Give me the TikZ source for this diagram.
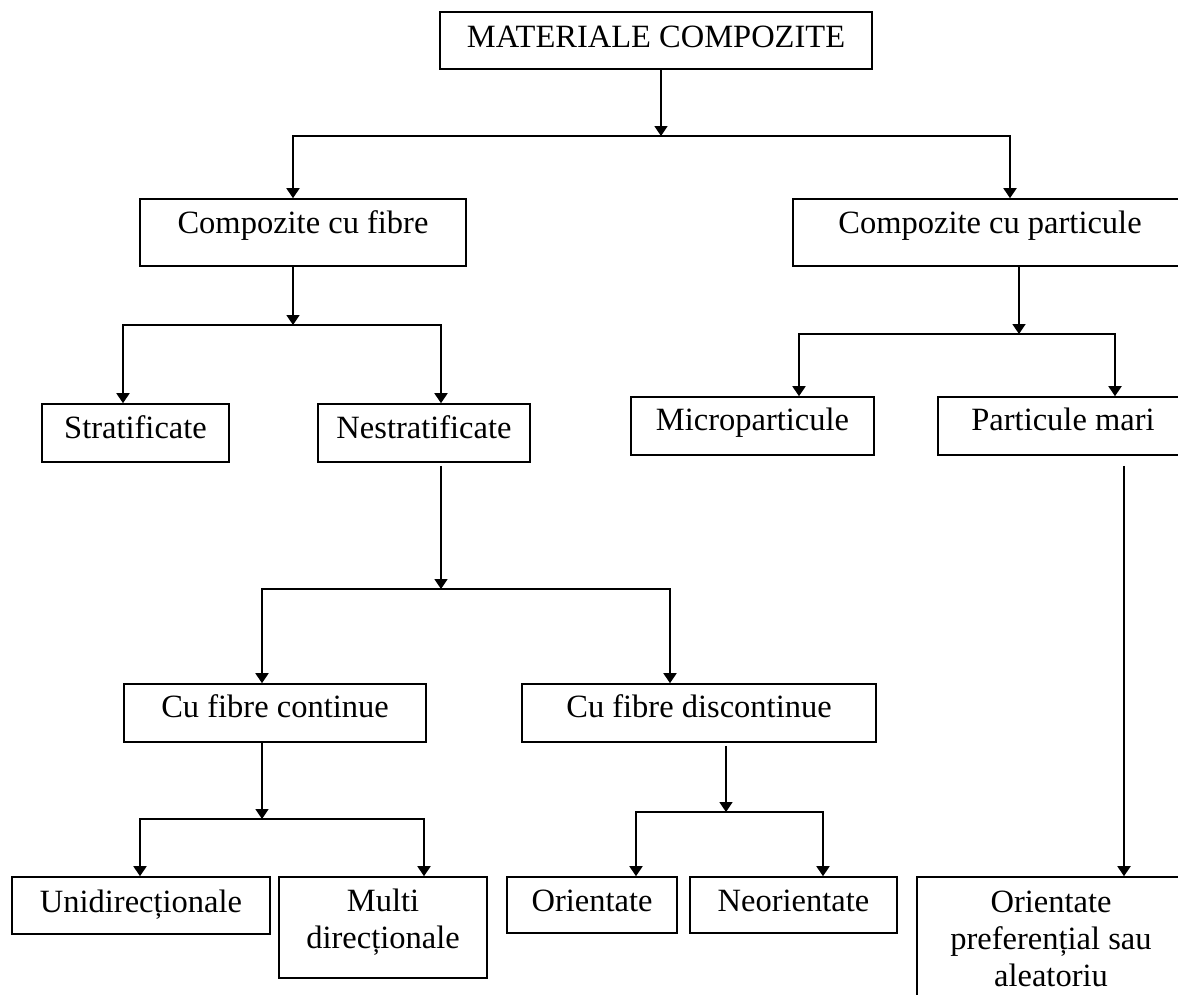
\documentclass[tikz,border=0pt]{standalone}
\usepackage{fontspec}
\setmainfont{Liberation Serif}
\usetikzlibrary{arrows.meta}

\tikzset{
  bloc/.style={draw, line width=1.6pt, inner xsep=0pt, inner ysep=0pt, anchor=base, align=center},
  linie/.style={line width=1.8pt},
}

\begin{document}
\begin{tikzpicture}[x=1pt,y=-1pt,>={Triangle[width=13pt,length=10pt]},font=\fontsize{32.5}{37}\selectfont]
\useasboundingbox (0,0) rectangle (1178,994);
\clip (0,0) rectangle (1178,994);
% boxes
\node[bloc,minimum width=432pt,text height=35pt,text depth=22pt] (mat) at (656,47) {MATERIALE COMPOZITE};
\node[bloc,minimum width=326pt,text height=34pt,text depth=33pt] (fibre) at (303,233) {Compozite cu fibre};
\node[bloc,minimum width=394pt,text height=34pt,text depth=33pt] (part) at (990,233) {Compozite cu particule};
\node[bloc,minimum width=187pt,text height=34pt,text depth=24pt] (strat) at (135.5,438) {Stratificate};
\node[bloc,minimum width=212pt,text height=34pt,text depth=24pt] (nestrat) at (424,438) {Nestratificate};
\node[bloc,minimum width=243pt,text height=33pt,text depth=25pt] (micro) at (752.5,430) {Microparticule};
\node[bloc,minimum width=250pt,text height=33pt,text depth=25pt] (mari) at (1063,430) {Particule mari};
\node[bloc,minimum width=302pt,text height=33pt,text depth=25pt] (cont) at (275,717) {Cu fibre continue};
\node[bloc,minimum width=354pt,text height=33pt,text depth=25pt] (discont) at (699,717) {Cu fibre discontinue};
\node[bloc,minimum width=258pt,text height=35pt,text depth=22pt] (unidir) at (141,912) {Unidirecționale};
\node[bloc,minimum width=208pt,text height=71pt,text depth=30pt] (multidir) at (383,948) {Multi\\direcționale};
\node[bloc,minimum width=170pt,text height=34pt,text depth=22pt] (orient) at (592,911) {Orientate};
\node[bloc,minimum width=207pt,text height=34pt,text depth=22pt] (neor) at (793.5,911) {Neorientate};
\node[bloc,minimum width=268pt,text height=109pt,text depth=30pt] (pref) at (1051,986) {Orientate\\preferențial sau\\aleatoriu};

% junctions on the horizontal lines
\coordinate (j1) at (661,136);
\coordinate (j2) at (293,325);
\coordinate (j3) at (1019,334);
\coordinate (j4) at (441,589);
\coordinate (j5) at (262,819);
\coordinate (j6) at (726,812);

% connectors
\draw[linie,->] (mat.south -| j1) -- (j1);
\draw[linie,->] (j1) -| ([xshift=-10pt]fibre.north);
\draw[linie,->] (j1) -| ([xshift=20pt]part.north);

\draw[linie,->] (fibre.south -| j2) -- (j2);
\draw[linie,->] (j2) -| ([xshift=-12.5pt]strat.north);
\draw[linie,->] (j2) -| ([xshift=17pt]nestrat.north);

\draw[linie,->] (part.south -| j3) -- (j3);
\draw[linie,->] (j3) -| ([xshift=46.5pt]micro.north);
\draw[linie,->] (j3) -| ([xshift=52pt]mari.north);

\draw[linie,->] ([yshift=-3pt]nestrat.south -| j4) -- (j4);
\draw[linie,->] (j4) -| ([xshift=-13pt]cont.north);
\draw[linie,->] (j4) -| ([xshift=-29pt]discont.north);

\draw[linie,->] (cont.south -| j5) -- (j5);
\draw[linie,->] (j5) -| ([xshift=-1pt]unidir.north);
\draw[linie,->] (j5) -| ([xshift=41pt]multidir.north);

\draw[linie,->] ([yshift=-3pt]discont.south -| j6) -- (j6);
\draw[linie,->] (j6) -| ([xshift=44pt]orient.north);
\draw[linie,->] (j6) -| ([xshift=29.5pt]neor.north);

\draw[linie,->] ([yshift=-10pt]mari.south -| pref.north) ++(73pt,0) -- ([xshift=73pt]pref.north);
\end{tikzpicture}
\end{document}
